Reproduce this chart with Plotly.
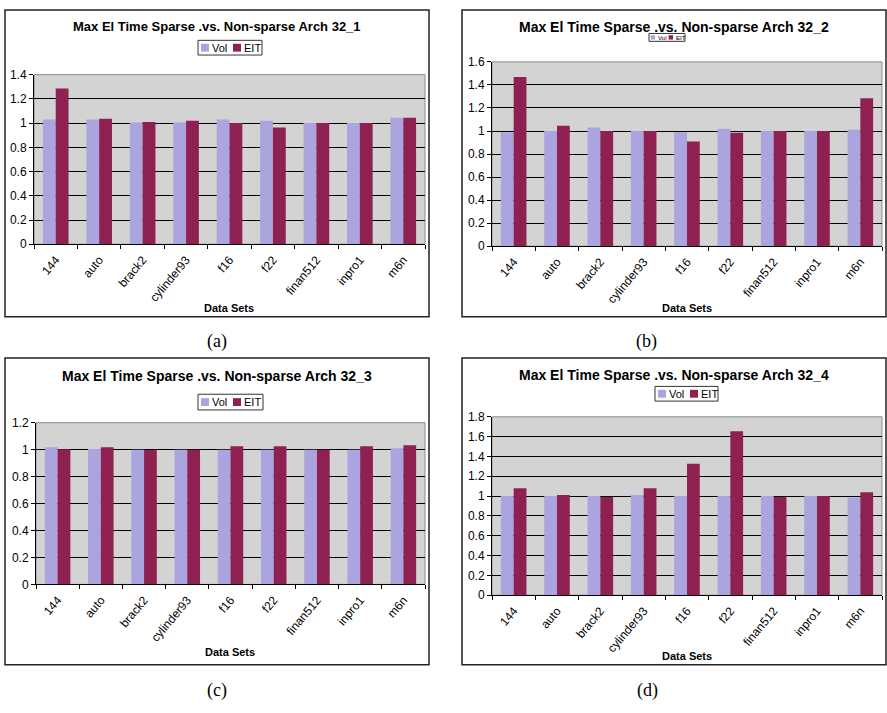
import plotly.graph_objects as go

# ---------------- data ----------------
categories = ["144", "auto", "brack2", "cylinder93", "f16", "f22", "finan512", "inpro1", "m6n"]

vol_32_1 = [1.03, 1.03, 1.005, 1.005, 1.03, 1.02, 1.0, 1.0, 1.045]
eit_32_1 = [1.285, 1.035, 1.01, 1.02, 1.0, 0.963, 1.0, 1.0, 1.045]

vol_32_2 = [0.99, 1.0, 1.03, 1.0, 0.99, 1.02, 1.0, 1.0, 1.01]
eit_32_2 = [1.47, 1.045, 1.0, 1.0, 0.91, 0.985, 1.0, 1.0, 1.285]

vol_32_3 = [1.018, 1.005, 1.0, 1.0, 1.0, 1.0, 1.0, 1.0, 1.01]
eit_32_3 = [1.003, 1.018, 0.997, 1.0, 1.025, 1.025, 1.0, 1.025, 1.032]

vol_32_4 = [1.0, 1.0, 1.0, 1.01, 1.0, 1.0, 1.0, 1.0, 0.985]
eit_32_4 = [1.08, 1.01, 0.99, 1.08, 1.325, 1.655, 0.99, 1.0, 1.04]

series_names = ["Vol", "EIT"]
titles = [
    "Max El Time Sparse .vs. Non-sparse Arch 32_1",
    "Max El Time Sparse .vs. Non-sparse Arch 32_2",
    "Max El Time Sparse .vs. Non-sparse Arch 32_3",
    "Max El Time Sparse .vs. Non-sparse Arch 32_4",
]
captions = ["(a)", "(b)", "(c)", "(d)"]
x_title = "Data Sets"
y_max = [1.4, 1.6, 1.2, 1.8]

# ---------------- layout helpers ----------------
W, H = 887, 713
VOL_COLOR = "#AAA5DE"
EIT_COLOR = "#8E2152"
BG = "#D3D3D3"
FONT = "Liberation Sans, Arial, sans-serif"


def fx(px):
    return px / W


def fy(py):
    return 1 - py / H


panels = [
    dict(vol=vol_32_1, eit=eit_32_1, plot=(34, 425, 69, 242), box=(5, 429, 3, 316),
         title_xy=(217, 20), title_size=13, legend_box=(198, 262, 34, 49), legend_scale=1.0,
         xlabel_xy=(229, 307), caption_xy=(217, 341)),
    dict(vol=vol_32_2, eit=eit_32_2, plot=(492, 882, 56, 244), box=(462, 886, 3, 316),
         title_xy=(674, 20), title_size=14, legend_box=(649, 685, 27, 35), legend_scale=0.56,
         xlabel_xy=(687, 307), caption_xy=(646, 341)),
    dict(vol=vol_32_3, eit=eit_32_3, plot=(36, 425, 424, 589), box=(5, 429, 358, 671),
         title_xy=(217, 376), title_size=14, legend_box=(198, 263, 395, 411), legend_scale=1.0,
         xlabel_xy=(230, 658), caption_xy=(217, 697)),
    dict(vol=vol_32_4, eit=eit_32_4, plot=(492, 882, 418, 600), box=(462, 886, 358, 671),
         title_xy=(674, 375), title_size=14, legend_box=(655, 718, 387, 402), legend_scale=1.0,
         xlabel_xy=(687, 662), caption_xy=(647, 697)),
]

fig = go.Figure()
layout = dict(
    width=W, height=H,
    margin=dict(l=0, r=0, t=0, b=0),
    paper_bgcolor="white",
    plot_bgcolor=BG,
    barmode="group",
    bargap=0.41,
    bargroupgap=0.0,
    font=dict(family=FONT, color="black"),
    showlegend=False,
)
annotations = []
shapes = []

for i, p in enumerate(panels):
    n = i + 1
    xa = "x" if n == 1 else f"x{n}"
    ya = "y" if n == 1 else f"y{n}"
    colors = [VOL_COLOR, EIT_COLOR]
    for name, vals, col in [(series_names[0], p["vol"], colors[0]), (series_names[1], p["eit"], colors[1])]:
        fig.add_trace(go.Bar(
            x=categories, y=vals, name=name, xaxis=xa, yaxis=ya,
            marker=dict(color=col, line=dict(width=0)),
            hoverinfo="x+y+name",
        ))
    x0, x1, y0, y1 = p["plot"]
    layout["xaxis" if n == 1 else f"xaxis{n}"] = dict(
        domain=[fx(x0), fx(x1)], anchor=ya,
        showline=True, linecolor="black", linewidth=1,
        ticks="outside", ticklen=4, tickcolor="black", tickson="boundaries",
        tickangle=-50, tickfont=dict(size=12, family=FONT), ticklabelstandoff=3,
        showgrid=False, zeroline=False, fixedrange=True,
    )
    layout["yaxis" if n == 1 else f"yaxis{n}"] = dict(
        domain=[fy(y1), fy(y0)], anchor=xa,
        range=[0, y_max[i]], dtick=0.2, tick0=0,
        showline=True, linecolor="black", linewidth=1,
        ticks="outside", ticklen=4, tickcolor="black",
        tickfont=dict(size=12, family=FONT),
        showgrid=True, gridcolor="black", gridwidth=1,
        zeroline=False, fixedrange=True,
    )
    shapes.append(dict(type="rect", xref=f"{xa} domain", yref=f"{ya} domain",
                       x0=0, x1=1, y0=0, y1=1, line=dict(color="#8C8C8C", width=1),
                       layer="below"))
    bx0, bx1, by0, by1 = p["box"]
    shapes.append(dict(type="rect", xref="paper", yref="paper",
                       x0=fx(bx0), x1=fx(bx1), y0=fy(by1), y1=fy(by0),
                       line=dict(color="#222222", width=1.5)))
    lx0, lx1, ly0, ly1 = p["legend_box"]
    s = p["legend_scale"]
    shapes.append(dict(type="rect", xref="paper", yref="paper",
                       x0=fx(lx0), x1=fx(lx1), y0=fy(ly1), y1=fy(ly0),
                       line=dict(color="#333333", width=1), fillcolor="white"))
    ymid = (ly0 + ly1) / 2
    for k, (name, col) in enumerate(zip(series_names, colors)):
        sx = lx0 + (3 + 32 * k) * s
        shapes.append(dict(type="rect", xref="paper", yref="paper",
                           x0=fx(sx), x1=fx(sx + 8 * s), y0=fy(ymid + 4 * s), y1=fy(ymid - 4 * s),
                           line=dict(width=0), fillcolor=col))
        annotations.append(dict(text=name, x=fx(sx + 9 * s), y=fy(ymid), xref="paper", yref="paper",
                                xanchor="left", yanchor="middle", showarrow=False,
                                font=dict(size=11 * s, family=FONT, color="black")))
    tx, ty = p["title_xy"]
    annotations.append(dict(text=f"<b>{titles[i]}</b>", x=fx(tx), y=fy(ty), xref="paper", yref="paper",
                            xanchor="center", yanchor="middle", showarrow=False,
                            font=dict(size=p["title_size"], family=FONT, color="black")))
    dx, dy = p["xlabel_xy"]
    annotations.append(dict(text=f"<b>{x_title}</b>", x=fx(dx), y=fy(dy), xref="paper", yref="paper",
                            xanchor="center", yanchor="middle", showarrow=False,
                            font=dict(size=11, family=FONT, color="black")))
    cx, cy = p["caption_xy"]
    annotations.append(dict(text=captions[i], x=fx(cx), y=fy(cy), xref="paper", yref="paper",
                            xanchor="center", yanchor="middle", showarrow=False,
                            font=dict(size=18, family="Liberation Serif, DejaVu Serif, serif", color="black")))

layout["annotations"] = annotations
layout["shapes"] = shapes
fig.update_layout(**layout)
fig.write_html("out.html", config={"displayModeBar": False},
               post_script="document.body.style.margin='0';")
